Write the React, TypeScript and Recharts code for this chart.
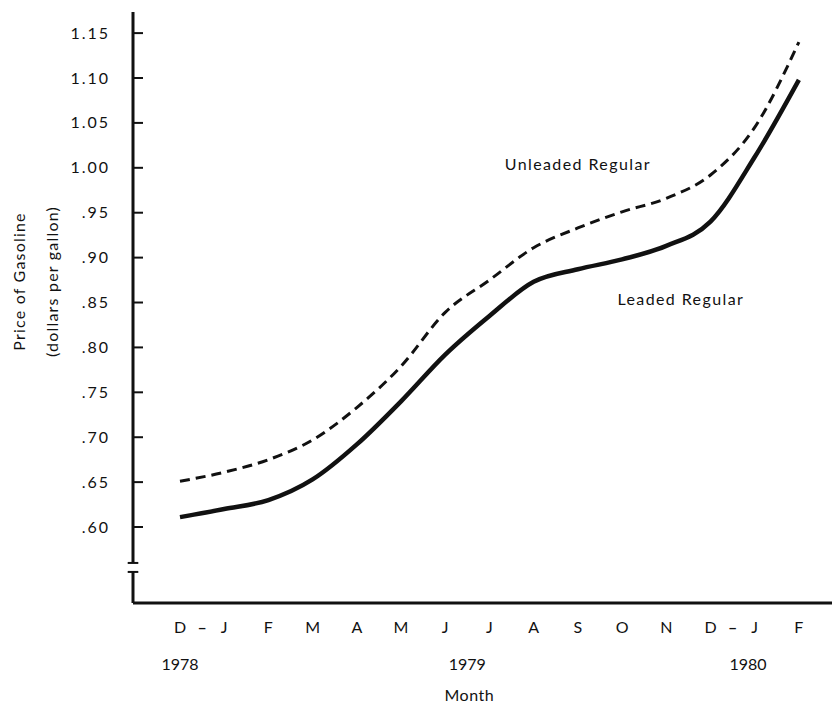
import React from 'react';
import { LineChart, Line, XAxis, YAxis, ReferenceLine, ReferenceDot } from 'recharts';

// ---- data ----
const months = ['D', 'J', 'F', 'M', 'A', 'M', 'J', 'J', 'A', 'S', 'O', 'N', 'D', 'J', 'F'];
const unleadedRegular = [0.651, 0.661, 0.675, 0.697, 0.733, 0.779, 0.839, 0.875, 0.911, 0.933, 0.951, 0.966, 0.992, 1.045, 1.14];
const leadedRegular = [0.611, 0.62, 0.63, 0.653, 0.692, 0.74, 0.792, 0.835, 0.873, 0.887, 0.898, 0.913, 0.94, 1.012, 1.098];
const dashPositions = [0.5, 12.5];
const years = ['1978', '1979', '1980'];
const yearPositions = [0, 6.5, 12.85];
const yTicks = [0.6, 0.65, 0.7, 0.75, 0.8, 0.85, 0.9, 0.95, 1.0, 1.05, 1.1, 1.15];
const yTickLabels = ['.60', '.65', '.70', '.75', '.80', '.85', '.90', '.95', '1.00', '1.05', '1.10', '1.15'];
const xTitle = 'Month';
const xTitlePosition = 6.5;
const yTitle1 = 'Price of Gasoline';
const yTitle2 = '(dollars per gallon)';
const seriesLabels = [
  { text: 'Unleaded Regular', x: 9.0, y: 1.005 },
  { text: 'Leaded Regular', x: 11.33, y: 0.855 },
];

const data = months.map((m, i) => ({ idx: i, month: m, unleaded: unleadedRegular[i], leaded: leadedRegular[i] }));

const X_DOMAIN: [number, number] = [-1.063, 14.93];
const Y_DOMAIN: [number, number] = [0.5154, 1.1735];
const BREAK_HI = 0.56;
const BREAK_LO = 0.55;

const FONT = 'Lato, "DejaVu Sans", sans-serif';
const INK = '#111';

const near = (a: number, b: number) => Math.abs(a - b) < 1e-6;

const BottomTick = (props: any) => {
  const { x, y, payload } = props;
  const v = payload.value;
  const isDash = dashPositions.some((d) => near(d, v));
  const isMonth = Number.isInteger(v) && v >= 0 && v < months.length;
  const yi = yearPositions.findIndex((p) => near(p, v));
  return (
    <g>
      {(isDash || isMonth) && (
        <text x={x} y={y + 23} textAnchor="middle" dominantBaseline="central" fontFamily={FONT}
          fontSize={16} fontWeight={isDash ? 700 : 400} fill={INK}>
          {isDash ? '–' : months[v]}
        </text>
      )}
      {yi >= 0 && (
        <text x={x} y={y + 60} textAnchor="middle" dominantBaseline="central" fontFamily={FONT}
          fontSize={16} fill={INK}>{years[yi]}</text>
      )}
      {near(v, xTitlePosition) && (
        <text x={x + 2} y={y + 91} textAnchor="middle" dominantBaseline="central" fontFamily={FONT}
          fontSize={16} letterSpacing={0.5} fill={INK}>{xTitle}</text>
      )}
    </g>
  );
};

const PriceTick = (props: any) => {
  const { x, y, payload } = props;
  const i = yTicks.findIndex((t) => near(t, payload.value));
  return (
    <g>
      <line x1={x} x2={x + 10} y1={y} y2={y} stroke={INK} strokeWidth={2} />
      <text x={x - 23} y={y - 1} textAnchor="end" dominantBaseline="central" fontFamily={FONT}
        fontSize={16} letterSpacing={2} fill={INK}>
        {i >= 0 ? yTickLabels[i] : ''}
      </text>
    </g>
  );
};

const YTitle = (props: any) => {
  const vb = props.viewBox || { x: 0, y: 0, width: 0, height: 0 };
  const cy = vb.y + vb.height / 2 - 26;
  const x1 = vb.x + 10;
  const x2 = vb.x + 43;
  return (
    <g>
      <text x={x1} y={cy} transform={`rotate(-90 ${x1} ${cy})`} textAnchor="middle" dominantBaseline="central"
        fontFamily={FONT} fontSize={16} letterSpacing={1.2} fill={INK}>{yTitle1}</text>
      <text x={x2} y={cy} transform={`rotate(-90 ${x2} ${cy})`} textAnchor="middle" dominantBaseline="central"
        fontFamily={FONT} fontSize={16} letterSpacing={1.2} fill={INK}>{yTitle2}</text>
    </g>
  );
};

const seriesLabel = (text: string) => (props: any) => {
  const vb = props.viewBox || { x: 0, y: 0, width: 0, height: 0 };
  const cx = vb.x + (vb.width || 0) / 2;
  const cy = vb.y + (vb.height || 0) / 2;
  return (
    <text x={cx} y={cy} textAnchor="middle" dominantBaseline="central" fontFamily={FONT}
      fontSize={16} letterSpacing={1.4} fill={INK}>{text}</text>
  );
};

export default function App() {
  const axisX = X_DOMAIN[0];
  const capW = 0.12;
  const bottomTicks = [...months.map((_, i) => i), ...dashPositions, ...yearPositions.filter((p) => !Number.isInteger(p))];
  return (
    <LineChart width={832} height={696} data={data} margin={{ top: 4, right: 0, bottom: 0, left: 0 }}>
      <XAxis xAxisId="m" dataKey="idx" type="number" domain={X_DOMAIN} allowDataOverflow
        ticks={bottomTicks} interval={0}
        tick={<BottomTick />} tickLine={false} tickSize={0} tickMargin={0} height={101}
        axisLine={{ stroke: INK, strokeWidth: 3 }} />
      <YAxis type="number" domain={Y_DOMAIN} allowDataOverflow ticks={yTicks} interval={0}
        tick={<PriceTick />} tickLine={false} tickSize={0} tickMargin={0} axisLine={false} width={125}
        label={{ content: YTitle }} />

      {/* y axis line with break */}
      <ReferenceLine xAxisId="m" ifOverflow="visible" stroke={INK} strokeWidth={3}
        segment={[{ x: axisX, y: Y_DOMAIN[1] }, { x: axisX, y: BREAK_HI }]} />
      <ReferenceLine xAxisId="m" ifOverflow="visible" stroke={INK} strokeWidth={3}
        segment={[{ x: axisX, y: BREAK_LO }, { x: axisX, y: Y_DOMAIN[0] }]} />
      <ReferenceLine xAxisId="m" ifOverflow="visible" stroke={INK} strokeWidth={2}
        segment={[{ x: axisX - capW, y: BREAK_HI }, { x: axisX + capW, y: BREAK_HI }]} />
      <ReferenceLine xAxisId="m" ifOverflow="visible" stroke={INK} strokeWidth={2}
        segment={[{ x: axisX - capW, y: BREAK_LO }, { x: axisX + capW, y: BREAK_LO }]} />

      <Line xAxisId="m" type="monotone" dataKey="unleaded" stroke={INK} strokeWidth={3}
        strokeDasharray="10 6" dot={false} activeDot={false} isAnimationActive={false} />
      <Line xAxisId="m" type="monotone" dataKey="leaded" stroke={INK} strokeWidth={4.5}
        dot={false} activeDot={false} isAnimationActive={false} />

      {seriesLabels.map((s) => (
        <ReferenceDot key={s.text} xAxisId="m" x={s.x} y={s.y} r={0} fill="none" stroke="none"
          ifOverflow="visible" label={{ content: seriesLabel(s.text) }} />
      ))}
    </LineChart>
  );
}
